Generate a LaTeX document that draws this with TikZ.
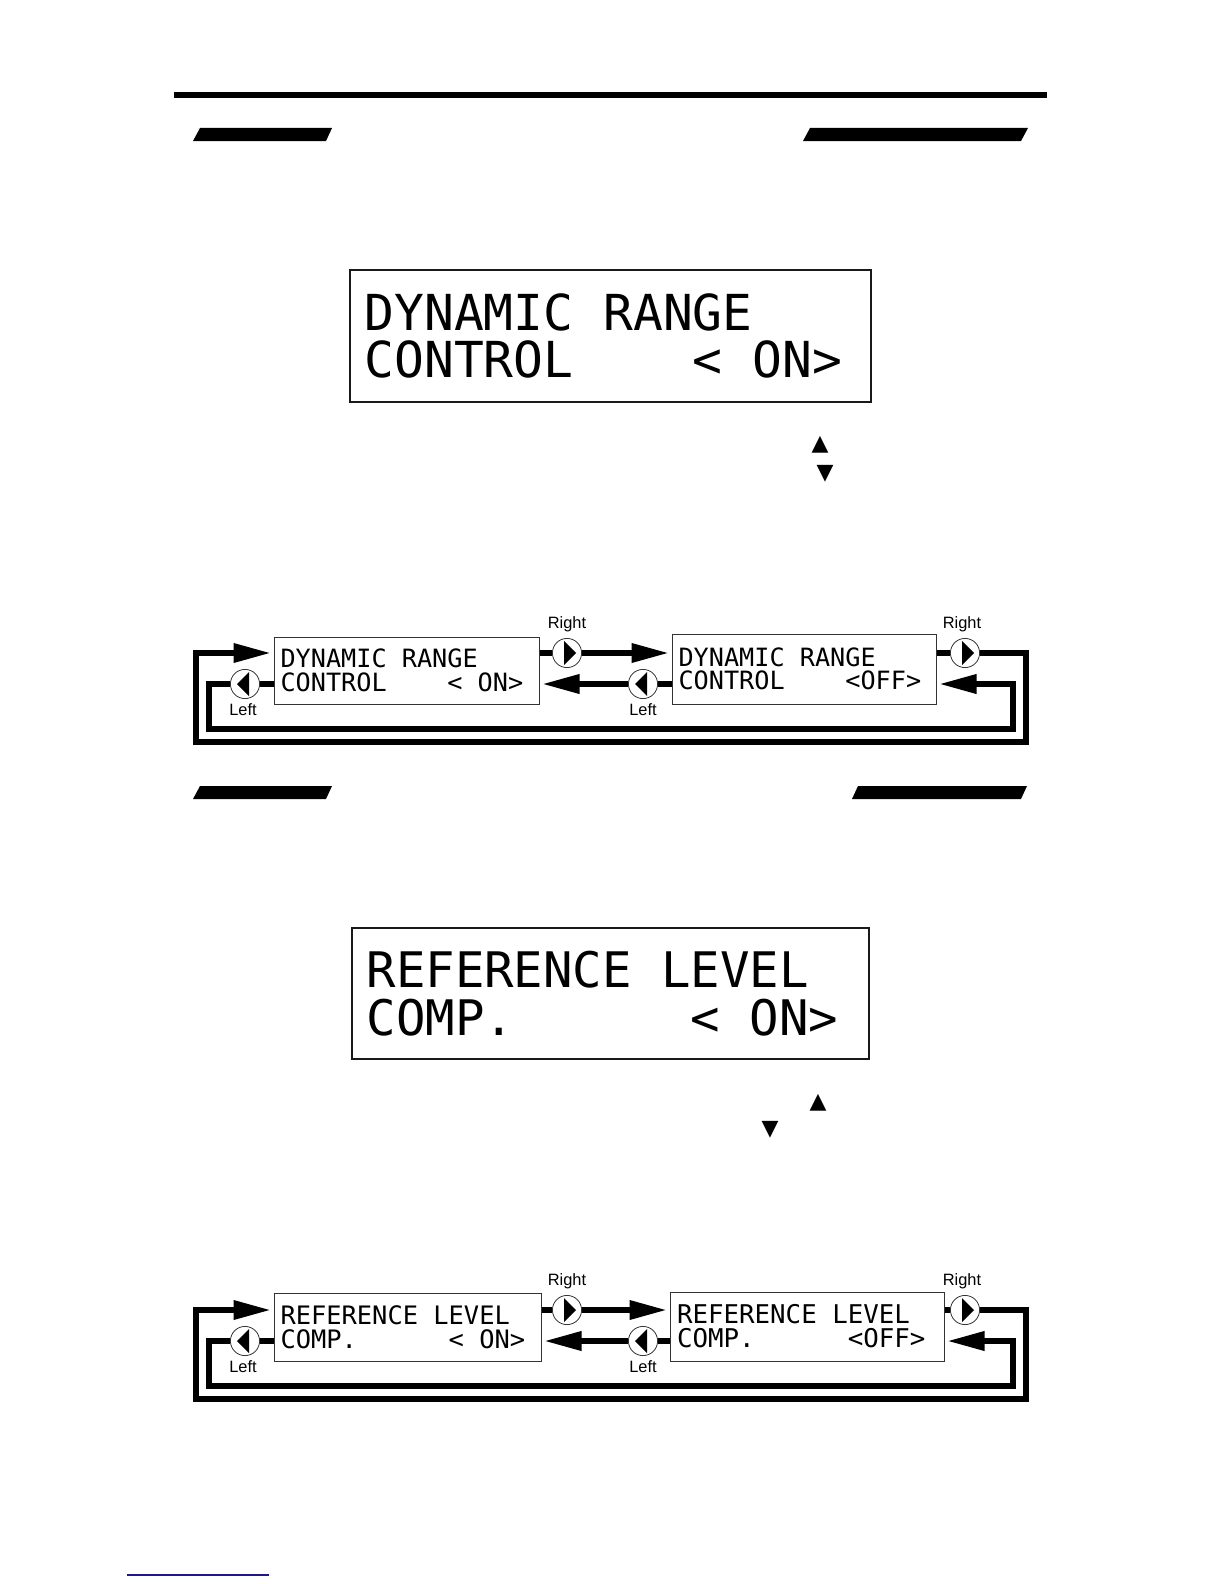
\documentclass[tikz,border=0pt]{standalone}
\usepackage{fontspec}
\usepackage{xcolor}
\usepackage{tikz}
\usetikzlibrary{arrows.meta,positioning}
\setmainfont{Liberation Sans}
\newfontfamily\lcdfont{DejaVu Sans Mono}
\newfontfamily\symfont{DejaVu Sans}
\definecolor{footlink}{HTML}{1A1A8C}

\begin{document}
\begin{tikzpicture}[
        x=0.5pt, y=-0.5pt,
        lcd/.style={rectangle, draw=black!80, fill=white, line width=0.5pt, inner sep=0pt, align=left,
                    execute at begin node={\spaceskip=0.602em\relax}},
        lcdbig/.style={lcd, draw=black!90, line width=0.8pt, font=\lcdfont\fontsize{24.8}{23.8}\selectfont},
        lcdsmall/.style={lcd, font=\lcdfont\fontsize{12.6}{11.8}\selectfont},
        wire/.style={line width=3.25pt},
        flow/.style={wire, -{Triangle[length=19pt, width=9pt]}, shorten >=1pt},
        keybase/.style={circle, draw=black!80, line width=0.4pt, fill=white, minimum size=14.6pt, inner sep=0pt},
        keyright/.style={keybase, path picture={
            \fill[black] ([shift={(-3,-12)}]path picture bounding box.center) -- ++(0,24) -- ++(12,-12) -- cycle;}},
        keyleft/.style={keybase, path picture={
            \fill[black] ([shift={(4,-12)}]path picture bounding box.center) -- ++(0,24) -- ++(-12,-12) -- cycle;}},
        keyname/.style={font=\fontsize{8.2}{9}\selectfont, inner sep=0pt},
        pointer/.style={font=\symfont\fontsize{11}{11}\selectfont, inner sep=0pt}
    ]
        \useasboundingbox (0,0) rectangle (1224,1584);

        % page rule and section bars
        \fill (174,92) rectangle (1047,98);
        \fill (200,128) -- (332,128) -- (326,141) -- (193,141) -- cycle;
        \fill (810,128) -- (1028,128) -- (1021,141) -- (803,141) -- cycle;
        \fill (200,786) -- (332,786) -- (326,799) -- (193,799) -- cycle;
        \fill (858,786) -- (1027,786) -- (1021,799) -- (852,799) -- cycle;

        % first display
        \node[lcdbig, minimum width=260.5pt, minimum height=66pt, text width=246pt] (dynbig) at (610.5,336)
            {DYNAMIC RANGE\\CONTROL~~~~<~ON>};
        \node[pointer] (dynup) at (820,445) {▲};
        \node[pointer] (dyndown) at (825,474) {▼};

        % first menu
        \node[lcdsmall, minimum width=132.5pt, minimum height=33.5pt, text width=126pt] (dynon) at (406.5,670.5)
            {DYNAMIC RANGE\\CONTROL~~~~<~ON>};
        \node[lcdsmall, minimum width=132pt, minimum height=35pt, text width=125.5pt] (dynoff) at (804,669)
            {DYNAMIC RANGE\\CONTROL~~~~<OFF>};
        \node[keyright] (dynra) at (567,653) {};
        \node[keyright] (dynrb) at (965,653) {};
        \node[keyleft] (dynla) at (245,684) {};
        \node[keyleft] (dynlb) at (643,684) {};
        \node[keyname, above=3pt of dynra] (dynrat) {Right};
        \node[keyname, above=3pt of dynrb, xshift=-1.5pt] (dynrbt) {Right};
        \node[keyname, below=2pt of dynla, xshift=-1pt] (dynlat) {Left};
        \node[keyname, below=2pt of dynlb] (dynlbt) {Left};
        \coordinate (dynouta) at (196,742);
        \coordinate (dynoutb) at (1026,742);
        \coordinate (dynina) at (209,729);
        \coordinate (dyninb) at (1013,729);

        \draw[wire] (dynon.east |- dynra) -- (dynra);
        \draw[flow] (dynra) -- (dynoff.west |- dynra);
        \draw[wire] (dynoff.east |- dynrb) -- (dynrb);
        \draw[flow] (dynrb) -| (dynoutb) -- (dynouta) |- (dynon.west |- dynrb);
        \draw[wire] (dynon.west |- dynla) -- (dynla);
        \draw[flow] (dynla) -| (dynina) -- (dyninb) |- (dynoff.east |- dynlb);
        \draw[wire] (dynoff.west |- dynlb) -- (dynlb);
        \draw[flow] (dynlb) -- (dynon.east |- dynlb);

        % second display
        \node[lcdbig, font=\lcdfont\fontsize{24.5}{23.8}\selectfont, minimum width=258.5pt, minimum height=65.5pt, text width=244pt] (refbig) at (610.5,993.5)
            {REFERENCE LEVEL\\COMP.~~~~~~<~ON>};
        \node[pointer] (refup) at (818,1103) {▲};
        \node[pointer] (refdown) at (770,1130) {▼};

        % second menu
        \node[lcdsmall, font=\lcdfont\fontsize{12.7}{12}\selectfont, minimum width=133.5pt, minimum height=34pt, text width=127pt] (refon) at (407.5,1327)
            {REFERENCE LEVEL\\COMP.~~~~~~<~ON>};
        \node[lcdsmall, font=\lcdfont\fontsize{12.9}{12}\selectfont, minimum width=137pt, minimum height=34.5pt, text width=130pt] (refoff) at (807,1326.5)
            {REFERENCE LEVEL\\COMP.~~~~~~<OFF>};
        \node[keyright] (refra) at (567,1310) {};
        \node[keyright] (refrb) at (965,1310) {};
        \node[keyleft] (refla) at (245,1341) {};
        \node[keyleft] (reflb) at (643,1341) {};
        \node[keyname, above=3pt of refra] (refrat) {Right};
        \node[keyname, above=3pt of refrb, xshift=-1.5pt] (refrbt) {Right};
        \node[keyname, below=2pt of refla, xshift=-1pt] (reflat) {Left};
        \node[keyname, below=2pt of reflb] (reflbt) {Left};
        \coordinate (refouta) at (196,1399);
        \coordinate (refoutb) at (1026,1399);
        \coordinate (refina) at (209,1386);
        \coordinate (refinb) at (1013,1386);

        \draw[wire] (refon.east |- refra) -- (refra);
        \draw[flow] (refra) -- (refoff.west |- refra);
        \draw[wire] (refoff.east |- refrb) -- (refrb);
        \draw[flow] (refrb) -| (refoutb) -- (refouta) |- (refon.west |- refrb);
        \draw[wire] (refon.west |- refla) -- (refla);
        \draw[flow] (refla) -| (refina) -- (refinb) |- (refoff.east |- reflb);
        \draw[wire] (refoff.west |- reflb) -- (reflb);
        \draw[flow] (reflb) -- (refon.east |- reflb);

        % footnote rule
        \draw[footlink, line width=0.6pt] (127,1575) -- (269,1575);
    \end{tikzpicture}
\end{document}
